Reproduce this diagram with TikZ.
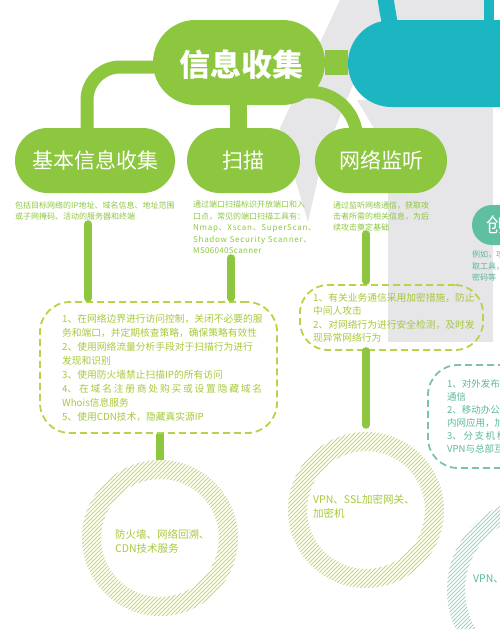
\documentclass[tikz,border=0pt]{standalone}
\usepackage{fontspec}
\setmainfont{Noto Sans CJK SC}
\definecolor{gmain}{HTML}{8DC63F}
\definecolor{gdesc}{HTML}{8DC63F}
\definecolor{gbul}{HTML}{A6C83A}
\definecolor{gdash}{HTML}{B8D24A}
\definecolor{ghatch}{HTML}{C6DA66}
\definecolor{cyanc}{HTML}{1CB5C2}
\definecolor{tealn}{HTML}{5EBFA2}
\definecolor{tealt}{HTML}{5BB89C}
\definecolor{tealdash}{HTML}{7CC3AE}
\definecolor{tealhatch}{HTML}{9ED3C4}
\definecolor{greybg}{HTML}{E6E5E7}
\tikzset{
  lvltwo/.style={rectangle, rounded corners=32.5pt, fill=gmain, text=white, minimum height=65pt, inner sep=0pt, font=\fontsize{21}{21}\selectfont},
  desc/.style={anchor=north west, inner sep=0pt, align=left, text=gdesc, font=\fontsize{8}{11.5}\selectfont},
  bullet/.style={anchor=north west, inner sep=0pt, align=left, text=gbul, font=\fontsize{9.75}{14}\selectfont},
  dbox/.style={rectangle, draw=gdash, line width=1.8pt, dash pattern=on 7pt off 4pt, inner sep=0pt},
  bar/.style={draw=gmain, line width=7.5pt, line cap=round},
  branch/.style={draw=gmain},
  ring/.style={circle, inner sep=0pt},
  ringtext/.style={anchor=north west, inner sep=0pt, align=left, text=gbul, font=\fontsize{10.5}{13.5}\selectfont},
}
\begin{document}
\begin{tikzpicture}[x=1pt,y=-1pt]
\useasboundingbox (0,0) rectangle (500,629);
\clip (0,0) rectangle (500,629);
% grey background shapes
\fill[greybg] (340,0) -- (388,0) -- (322,160) -- (308,222) -- (280,128) -- cycle;
\fill[greybg] (388,0) rectangle (493,342);
\fill[greybg] (357,100) -- (393,100) -- (393,140) -- (381,140) -- cycle;
% cyan elements at top right
\draw[cyanc, line width=16pt] (385,-5) .. controls (387,8) .. (390,25);
\fill[cyanc] (484,0) rectangle (494,22);
\node[rectangle, fill=cyanc, rounded corners=43.5pt, minimum width=200pt, minimum height=87pt, inner sep=0pt] (cyanpill) at (448,63.5) {};
% main node
\node[rectangle, fill=gmain, rounded corners=42.5pt, minimum width=172pt, minimum height=85pt, inner sep=0pt] (main) at (239,62.5) {};
\node[text=white, font=\fontsize{31}{31}\selectfont\bfseries, inner sep=0pt] (maintext) at (241,65) {信息收集};
\fill[gmain] (main.east |- 0,50) rectangle (cyanpill.west |- 0,75);
% level two nodes
\node[lvltwo, minimum width=160pt] (basic) at (95,160.5) {基本信息收集};
\node[lvltwo, minimum width=113pt] (scan) at (243.5,160.5) {扫描};
\node[lvltwo, minimum width=132pt] (sniff) at (381,160.5) {网络监听};
% branches
\draw[branch, line width=13pt] (160,67) -- (120,67) .. controls (101.8,67) and (87,81.8) .. (87,100) -- (87,0 |- basic.north);
\draw[branch, line width=17pt] (238.5,100) -- (238.5,0 |- scan.north);
\draw[branch, line width=12.5pt] (295,92) -- (310,92) .. controls (336,92) and (357,113) .. (357,139) -- (357,0 |- sniff.north);
% descriptions
\node[desc] (d1) at (15,201) {包括目标网络的IP地址、域名信息、地址范围\\或子网掩码、活动的服务器和终端};
\node[desc] (d2) at (193,201) {\makebox[118pt][s]{通过端口扫描标识开放端口和入}\\\makebox[118pt][s]{口点，常见的端口扫描工具有：}\\{\addfontfeatures{LetterSpace=9}Nmap、Xscan、SuperScan、}\\{\addfontfeatures{LetterSpace=9}Shadow Security Scanner、}\\{\addfontfeatures{LetterSpace=4}MS06040Scanner}};
\node[desc, font=\fontsize{8}{11}\selectfont] (d3) at (333,201) {通过监听网络通信，获取攻\\击者所需的相关信息，为后\\续攻击奠定基础};
% teal partial node on right
\node[rectangle, fill=tealn, rounded corners=20pt, minimum width=80pt, minimum height=40pt, inner sep=0pt] (crack) at (512,225) {};
\node[text=white, font=\fontsize{20}{20}\selectfont, anchor=west, inner sep=0pt] (cracktext) at (486,225) {创};
\node[desc, text=tealt] (d4) at (472,251) {例如，攻击\\取工具，\\密码等};
% dashed boxes
\node[dbox, rounded corners=30pt, minimum width=237pt, minimum height=131pt] (box1) at (158.5,367.5) {};
\node[dbox, rounded corners=28pt, minimum width=183pt, minimum height=65pt] (box2) at (391.5,317.5) {};
\node[dbox, draw=tealdash, rounded corners=30pt, minimum width=140pt, minimum height=103pt] (box3) at (498,416.5) {};
\node[bullet] (t1) at (62,314.1) {1、在网络边界进行访问控制，关闭不必要的服\\务和端口，并定期核查策略，确保策略有效性\\2、使用网络流量分析手段对于扫描行为进行\\发现和识别\\3、使用防火墙禁止扫描IP的所有访问\\\makebox[200pt][s]{4、\hfill 在\hfill 域\hfill 名\hfill 注\hfill 册\hfill 商\hfill 处\hfill 购\hfill 买\hfill 或\hfill 设\hfill 置\hfill 隐\hfill 藏\hfill 域\hfill 名}\\Whois信息服务\\5、使用CDN技术，隐藏真实源IP};
\node[bullet, font=\fontsize{9.75}{13.3}\selectfont] (t2) at (313,293.1) {1、有关业务通信采用加密措施，防止\\中间人攻击\\2、对网络行为进行安全检测，及时发\\现异常网络行为};
\node[bullet, text=tealt, font=\fontsize{9.5}{13}\selectfont] (t3) at (447,379.25) {1、对外发布的\\通信\\2、移动办公用\\内网应用，加密\\3、\,分\,支\,机\,构\\VPN与总部互};
% bars
\draw[bar] (88,224) -- (88,298);
\draw[bar] (231,258) -- (231,298);
\draw[bar] (366,234) -- (366,281);
% rings
\node[ring, minimum size=156pt] (ring1) at (160,538) {};
\node[ring, minimum size=156pt] (ring2) at (366,510) {};
\node[ring, minimum size=186pt] (ring3) at (540,590) {};
\draw[draw=gmain, line width=7.5pt] (160,0 |- box1.south) -- (160,0 |- ring1.north);
\draw[draw=gmain, line width=7.5pt, line cap=round] (366,0 |- box2.south) -- (366,425);
\begin{scope}[even odd rule]
\clip (160,538) circle (78pt) (160,538) circle (59pt);
\foreach \i in {-116,-112,...,116} \draw[ghatch, line width=0.9pt] (160+\i-80,618) -- (160+\i+80,458);
\end{scope}
\begin{scope}[even odd rule]
\clip (366,510) circle (78pt) (366,510) circle (59pt);
\foreach \i in {-116,-112,...,116} \draw[ghatch, line width=0.9pt] (366+\i-80,590) -- (366+\i+80,430);
\end{scope}
\begin{scope}[even odd rule]
\clip (540,590) circle (93pt) (540,590) circle (75pt);
\foreach \i in {-136,-132,...,136} \draw[tealhatch, line width=0.9pt] (540+\i-95,685) -- (540+\i+95,495);
\end{scope}
\node[ringtext] (r1) at (115,529.75) {防火墙、网络回溯、\\CDN技术服务};
\node[ringtext, font=\fontsize{10.5}{14}\selectfont] (r2) at (313,494.75) {VPN、SSL加密网关、\\加密机};
\node[ringtext, text=tealt] (r3) at (473,574.75) {VPN、};
\end{tikzpicture}
\end{document}
